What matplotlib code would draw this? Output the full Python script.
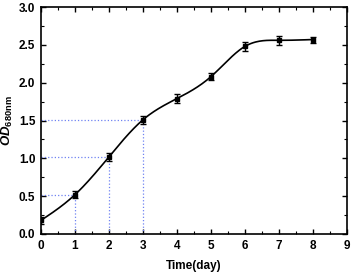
import numpy as np
import matplotlib
matplotlib.use("Agg")
import matplotlib.pyplot as plt

days = [0, 1, 2, 3, 4, 5, 6, 7, 8]
od = [0.18, 0.52, 1.02, 1.51, 1.79, 2.08, 2.48, 2.56, 2.57]
err = [0.05, 0.05, 0.05, 0.05, 0.06, 0.05, 0.06, 0.06, 0.04]
guide_days = [1, 2, 3]
xticks = [0, 1, 2, 3, 4, 5, 6, 7, 8, 9]
yticks = [0.0, 0.5, 1.0, 1.5, 2.0, 2.5, 3.0]

plt.rcParams['font.family'] = 'Liberation Sans'
plt.rcParams['font.weight'] = 'bold'
plt.rcParams['mathtext.fontset'] = 'custom'
plt.rcParams['mathtext.bf'] = 'Liberation Sans:bold'
plt.rcParams['mathtext.bfit'] = 'Liberation Sans:italic:bold'
plt.rcParams['mathtext.it'] = 'Liberation Sans:italic:bold'
plt.rcParams['mathtext.rm'] = 'Liberation Sans:bold'


def natural_spline(x, y, xs):
    x = np.asarray(x, float); y = np.asarray(y, float)
    n = len(x)
    h = np.diff(x)
    A = np.zeros((n, n)); b = np.zeros(n)
    A[0, 0] = 1; A[-1, -1] = 1
    for i in range(1, n - 1):
        A[i, i - 1] = h[i - 1]
        A[i, i] = 2 * (h[i - 1] + h[i])
        A[i, i + 1] = h[i]
        b[i] = 3 * ((y[i + 1] - y[i]) / h[i] - (y[i] - y[i - 1]) / h[i - 1])
    c = np.linalg.solve(A, b)
    out = np.empty_like(xs)
    for k, xv in enumerate(xs):
        i = min(np.searchsorted(x, xv, side='right') - 1, n - 2)
        i = max(i, 0)
        dx = xv - x[i]
        bi = (y[i + 1] - y[i]) / h[i] - h[i] * (2 * c[i] + c[i + 1]) / 3
        di = (c[i + 1] - c[i]) / (3 * h[i])
        out[k] = y[i] + bi * dx + c[i] * dx ** 2 + di * dx ** 3
    return out


fig = plt.figure(figsize=(3.53, 2.74), dpi=100)
ax = fig.add_axes([41 / 353, 1 - 234 / 274, 306 / 353, 227 / 274])

xs = np.linspace(days[0], days[-1], 300)
ax.plot(xs, natural_spline(days, od, xs), color='black', lw=1.2, zorder=3)
ax.errorbar(days, od, yerr=err, fmt='s', color='black', ms=3.5, capsize=2.5,
            elinewidth=1, capthick=1, zorder=4)

for d in guide_days:
    v = od[days.index(d)]
    ax.plot([d, d], [0, v], color='#6f82f2', ls=':', lw=0.9, zorder=2)
    ax.plot([0, d], [v, v], color='#6f82f2', ls=':', lw=0.9, zorder=2)

ax.set_xlim(0, 9)
ax.set_ylim(0, 3.0)
ax.set_xticks(xticks)
ax.set_yticks(yticks)
ax.set_yticklabels([f"{t:.1f}" for t in yticks])
ax.set_xticks(np.arange(0.5, 9, 1), minor=True)
ax.set_yticks(np.arange(0.25, 3, 0.5), minor=True)
ax.tick_params(which='both', direction='in', top=True, right=True, labelsize=8.5)
ax.tick_params(which='major', length=3.5, width=1, pad=4)
ax.tick_params(which='minor', length=2, width=0.8)
for s in ax.spines.values():
    s.set_linewidth(1.2)

ax.set_xlabel('Time(day)', fontsize=8.5, fontweight='bold', labelpad=6)
ax.set_ylabel(r'$\mathit{OD}_{\mathbf{680nm}}$', fontsize=9.5, labelpad=3)

fig.savefig('out.png', dpi=100)
